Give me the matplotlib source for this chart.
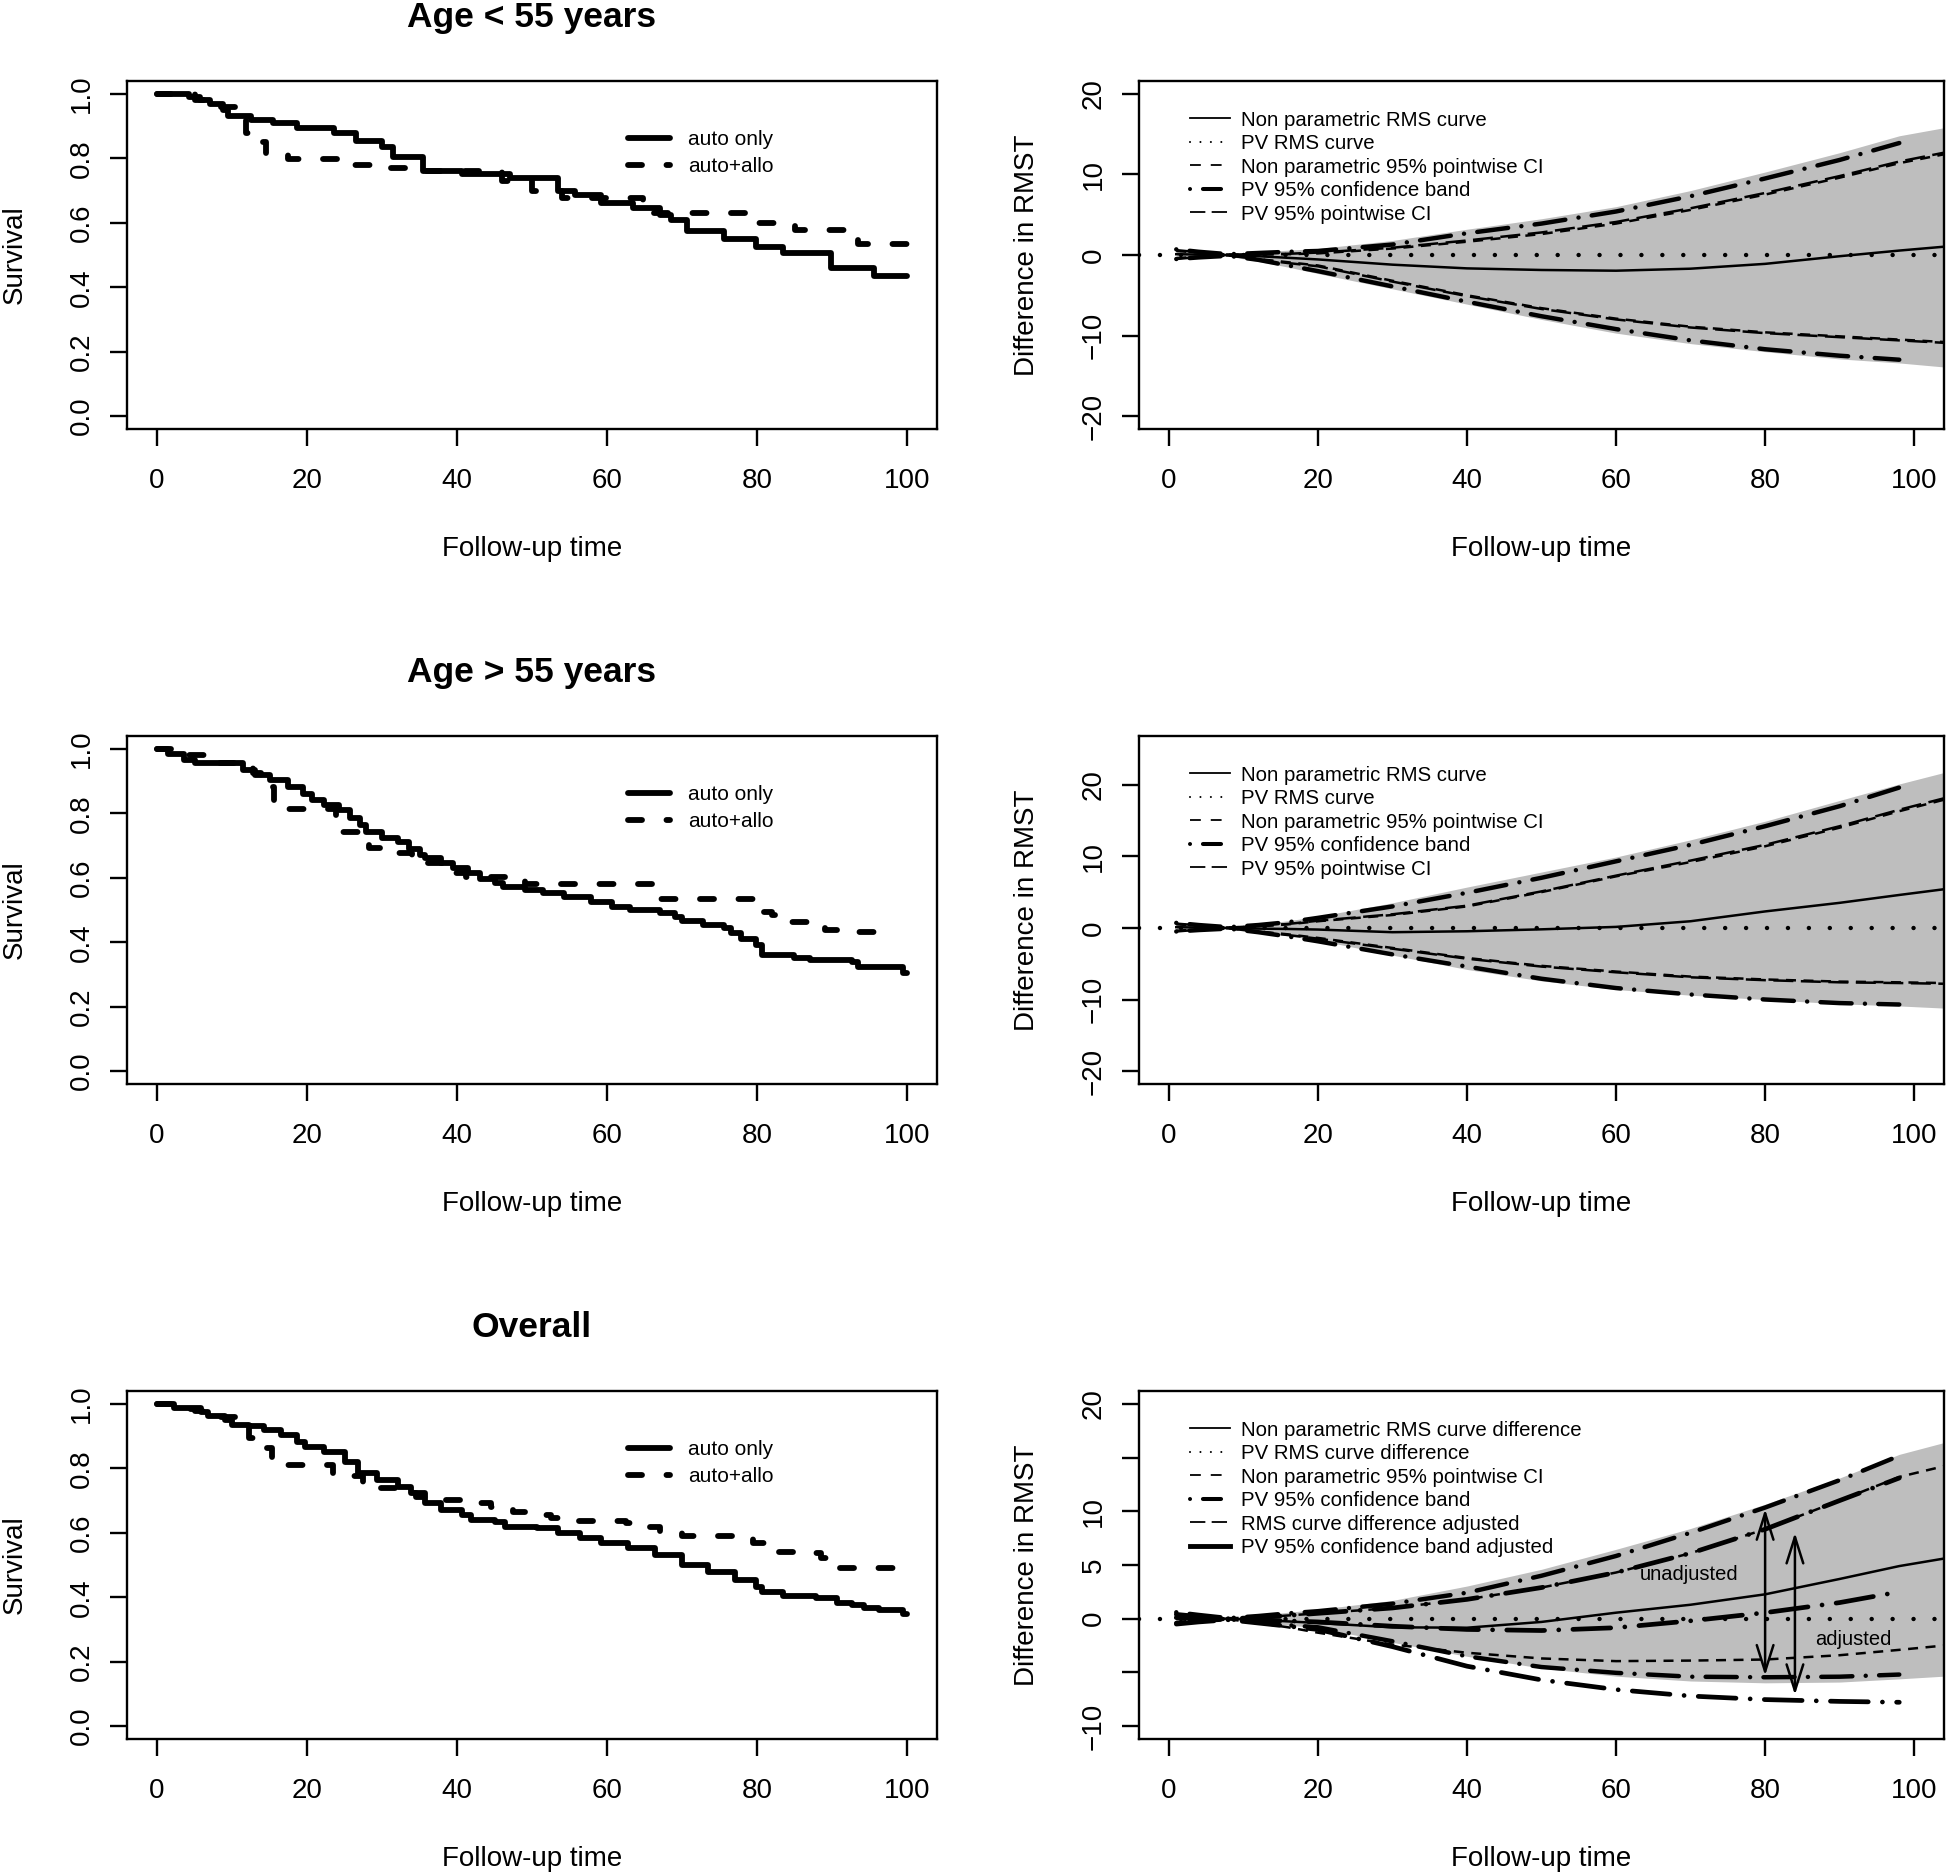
"""Survival curves by age group with RMST difference curves (3x2 panel figure)."""

import matplotlib

matplotlib.use("Agg")  # no display
import matplotlib.pyplot as plt
from matplotlib.lines import Line2D

plt.rcParams["font.family"] = ["Liberation Sans", "DejaVu Sans"]

NAN = float("nan")

# ---------------------------------------------------------------- data
# Kaplan-Meier steps (time of step, survival after step)
lt55_auto_t = [0, 4.3, 5.7, 7.0, 8.8, 9.5, 12.5, 15.5, 18.6, 23.6, 26.5, 30.0, 31.5, 35.5, 40.7,
               47.0, 53.5, 55.7, 59.2, 63.5, 67.1, 68.5, 70.6, 75.6, 79.9, 83.5, 89.9, 95.6, 100]
lt55_auto_s = [1.0, 0.99, 0.98, 0.97, 0.95, 0.93, 0.92, 0.91, 0.895, 0.88, 0.855, 0.835, 0.805, 0.76, 0.75,
               0.74, 0.70, 0.685, 0.66, 0.645, 0.625, 0.61, 0.575, 0.55, 0.525, 0.505, 0.46, 0.435, 0.435]
lt55_allo_t = [0, 5, 8, 10.5, 11.8, 13.0, 14.5, 17.5, 25.5, 31.0, 35.5, 46.0, 50.0, 54.0, 64.8,
               80.0, 85.0, 93.5, 100]
lt55_allo_s = [1.0, 0.98, 0.96, 0.93, 0.88, 0.85, 0.813, 0.798, 0.78, 0.77, 0.76, 0.73, 0.70, 0.676, 0.63,
               0.60, 0.578, 0.535, 0.535]

gt55_auto_t = [0, 1.5, 3.6, 5.0, 11.5, 13.0, 15.0, 17.5, 19.5, 20.7, 22.2, 24.3, 25.7, 27.0, 27.9, 30.0,
               32.1, 33.6, 35.0, 35.7, 37.8, 39.5, 41.4, 43.0, 45.0, 46.1, 49.0, 51.4, 54.2, 57.8, 60.7,
               63.0, 67.1, 69.0, 70.0, 72.8, 75.6, 76.5, 77.8, 79.9, 80.6, 84.9, 87.1, 92.7, 93.5, 99.5, 100]
gt55_auto_s = [1.0, 0.984, 0.966, 0.956, 0.935, 0.919, 0.904, 0.883, 0.86, 0.842, 0.826, 0.81, 0.785, 0.765,
               0.743, 0.725, 0.712, 0.69, 0.671, 0.66, 0.645, 0.63, 0.614, 0.595, 0.583, 0.572, 0.562, 0.552,
               0.541, 0.526, 0.51, 0.50, 0.49, 0.479, 0.465, 0.453, 0.443, 0.43, 0.41, 0.39, 0.36, 0.352,
               0.345, 0.339, 0.322, 0.305, 0.305]
gt55_allo_t = [0, 2.5, 4.3, 8.0, 12.8, 13.8, 15.6, 16.5, 23.8, 24.8, 27.4, 28.3, 30.5, 34.0, 39.5, 41.2,
               49.0, 66.5, 67.0, 80.5, 82.0, 84.0, 89.0, 93.0, 97.5]
gt55_allo_s = [1.0, 0.99, 0.981, 0.956, 0.925, 0.883, 0.842, 0.814, 0.769, 0.743, 0.717, 0.692, 0.676,
               0.645, 0.614, 0.603, 0.581, 0.545, 0.533, 0.495, 0.484, 0.464, 0.438, 0.433, 0.433]

all_auto_t = [0, 2.2, 5.8, 6.8, 9.0, 10.0, 12.2, 14.3, 16.5, 18.6, 19.7, 22.2, 25.0, 26.8, 29.3, 32.1,
              33.9, 35.7, 37.8, 40.7, 41.8, 45.0, 46.4, 50.7, 53.5, 56.4, 59.2, 62.8, 66.4, 70.0, 73.5,
              77.1, 79.9, 80.6, 83.5, 87.8, 90.6, 92.7, 94.2, 96.3, 99.5, 100]
all_auto_s = [1.0, 0.987, 0.976, 0.961, 0.95, 0.935, 0.93, 0.919, 0.904, 0.883, 0.867, 0.852, 0.821, 0.785,
              0.764, 0.743, 0.723, 0.692, 0.671, 0.655, 0.64, 0.634, 0.619, 0.614, 0.598, 0.583, 0.567,
              0.552, 0.531, 0.5, 0.479, 0.453, 0.433, 0.417, 0.404, 0.397, 0.381, 0.376, 0.366, 0.36,
              0.348, 0.348]
all_allo_t = [0, 2.0, 5.0, 8.0, 11.0, 12.2, 13.3, 15.3, 16.3, 23.5, 27.5, 33.0, 34.5, 36.5, 42.0, 44.5,
              47.5, 49.5, 52.5, 54.0, 62.5, 64.5, 67.0, 70.0, 78.0, 79.5, 81.5, 87.0, 88.5, 91.0, 100]
all_allo_s = [1.0, 0.985, 0.978, 0.96, 0.93, 0.893, 0.862, 0.836, 0.81, 0.776, 0.738, 0.723, 0.712, 0.702,
              0.692, 0.681, 0.666, 0.655, 0.645, 0.638, 0.63, 0.619, 0.598, 0.59, 0.583, 0.567, 0.541,
              0.536, 0.521, 0.49, 0.49]

# RMST difference curves, read at these follow-up times
T = [1, 4, 8, 12, 16, 20, 30, 40, 50, 60, 70, 80, 90, 98, 104]

lt55_np_mid = [0.1, 0.05, 0.0, -0.15, -0.35, -0.55, -1.2, -1.66, -1.86, -1.95, -1.7, -1.1, -0.15, 0.55, 1.03]
lt55_np_hi = [0.5, 0.3, 0.05, 0.05, 0.1, 0.2, 0.8, 1.65, 2.6, 3.9, 5.6, 7.5, 9.6, 11.4, 12.5]
lt55_np_lo = [-0.4, -0.2, -0.05, -0.5, -0.9, -1.3, -3.2, -5.0, -6.6, -7.9, -8.9, -9.6, -10.1, -10.5, -10.8]
lt55_pw_hi = [0.6, 0.35, 0.05, 0.1, 0.15, 0.3, 0.9, 1.8, 2.8, 4.1, 5.8, 7.7, 9.8, 11.6, 12.7]
lt55_pw_lo = [-0.5, -0.25, -0.05, -0.55, -1.0, -1.4, -3.3, -5.1, -6.7, -8.0, -9.0, -9.7, -10.2, -10.6, -10.9]
lt55_band_hi = [0.7, 0.4, 0.1, 0.25, 0.4, 0.5, 1.3, 2.7, 3.9, 5.4, 7.3, 9.5, 11.8, 13.9, NAN]
lt55_band_lo = [-0.5, -0.3, -0.1, -0.6, -1.3, -2.0, -3.9, -5.8, -7.6, -9.2, -10.6, -11.7, -12.5, -13.0, NAN]
lt55_grey_hi = [0.7, 0.45, 0.15, 0.35, 0.6, 0.8, 1.8, 3.2, 4.5, 6.0, 8.0, 10.3, 12.7, 14.8, 15.8]
lt55_grey_lo = [-0.5, -0.3, -0.15, -0.8, -1.5, -2.3, -4.2, -6.1, -8.0, -9.7, -11.0, -12.0, -12.9, -13.4, -13.9]

gt55_np_mid = [0.1, 0.05, 0.0, -0.1, -0.15, -0.23, -0.6, -0.47, -0.2, 0.14, 0.93, 2.3, 3.5, 4.6, 5.4]
gt55_np_hi = [0.5, 0.3, 0.05, 0.2, 0.5, 0.93, 1.8, 3.0, 5.0, 7.2, 9.2, 11.4, 14.0, 16.3, 17.9]
gt55_np_lo = [-0.4, -0.2, -0.05, -0.5, -0.9, -1.4, -2.8, -4.2, -5.3, -6.1, -6.8, -7.2, -7.5, -7.6, -7.7]
gt55_pw_hi = [0.6, 0.35, 0.05, 0.25, 0.55, 1.0, 1.9, 3.1, 5.1, 7.3, 9.4, 11.6, 14.2, 16.5, 18.1]
gt55_pw_lo = [-0.5, -0.25, -0.05, -0.55, -1.0, -1.5, -2.9, -4.3, -5.4, -6.2, -6.9, -7.3, -7.6, -7.7, -7.8]
gt55_band_hi = [0.7, 0.4, 0.1, 0.4, 0.8, 1.4, 3.0, 4.9, 7.0, 9.3, 11.6, 14.2, 17.0, 19.6, NAN]
gt55_band_lo = [-0.5, -0.3, -0.1, -0.6, -1.2, -1.87, -3.7, -5.4, -7.1, -8.4, -9.3, -10.0, -10.5, -10.7, NAN]
gt55_grey_hi = [0.7, 0.45, 0.15, 0.5, 1.0, 1.6, 3.5, 5.7, 7.8, 9.9, 12.3, 14.9, 17.8, 20.1, 21.7]
gt55_grey_lo = [-0.5, -0.3, -0.15, -0.6, -1.1, -1.7, -3.8, -5.8, -7.4, -8.6, -9.4, -10.0, -10.6, -10.9, -11.2]

all_np_mid = [0.1, 0.05, 0.0, -0.1, -0.25, -0.4, -0.8, -0.84, -0.3, 0.56, 1.3, 2.27, 3.7, 4.9, 5.6]
all_np_hi = [0.4, 0.2, 0.05, 0.1, 0.3, 0.5, 1.0, 1.8, 2.9, 4.3, 6.1, 8.33, 11.0, 13.2, 14.2]
all_np_lo = [-0.3, -0.15, -0.05, -0.4, -0.8, -1.3, -2.4, -3.17, -3.7, -3.95, -3.9, -3.8, -3.4, -2.9, -2.5]
all_band_hi = [0.6, 0.35, 0.05, 0.25, 0.5, 0.7, 1.4, 2.42, 4.0, 5.84, 8.0, 10.35, 12.9, 15.17, NAN]
all_band_lo = [-0.4, -0.2, -0.05, -0.3, -0.6, -0.8, -2.1, -3.5, -4.5, -5.04, -5.4, -5.45, -5.4, -5.2, NAN]
all_adj_mid = [0.1, 0.0, -0.05, -0.15, -0.2, -0.3, -0.7, -1.0, -1.1, -0.84, -0.2, 0.56, 1.5, 2.5, NAN]
all_adj_hi = [0.4, 0.2, 0.0, 0.1, 0.3, 0.5, 1.0, 1.8, 2.9, 4.3, 6.1, 8.33, 11.0, 13.1, NAN]
all_adj_lo = [-0.5, -0.3, -0.1, -0.4, -0.7, -1.0, -2.6, -4.42, -5.7, -6.6, -7.2, -7.53, -7.7, -7.78, NAN]
all_grey_hi = [0.6, 0.4, 0.1, 0.3, 0.6, 0.87, 1.7, 3.04, 4.6, 6.46, 8.4, 10.66, 13.1, 15.3, 16.4]
all_grey_lo = [-0.4, -0.2, -0.1, -0.3, -0.6, -0.84, -2.2, -3.5, -4.6, -5.35, -5.8, -5.97, -5.9, -5.6, -5.35]

arrow_x = [80, 84]
arrow_top = [10.2, 8.0]
arrow_bottom = [-5.3, -7.1]
arrow_text = ["unadjusted", "adjusted"]
arrow_text_xy = [(69.8, 4.1), (91.9, -1.9)]

titles = ["Age < 55 years", "Age > 55 years", "Overall"]
km_legend = ["auto only", "auto+allo"]
legend_basic = ["Non parametric RMS curve", "PV RMS curve", "Non parametric 95% pointwise CI",
                "PV 95% confidence band", "PV 95% pointwise CI"]
legend_overall = ["Non parametric RMS curve difference", "PV RMS curve difference",
                  "Non parametric 95% pointwise CI", "PV 95% confidence band",
                  "RMS curve difference adjusted", "PV 95% confidence band adjusted"]

# ---------------------------------------------------------------- layout (pixels)
W, H = 1947, 1873
ROW_TOP = [81, 736, 1391]
ROW_BOTTOM = [429, 1084, 1739]
LEFT_X = (127, 937)
RIGHT_X = (1139, 1944)
GREY = "#bebebe"

KM_LW = 4.2
KM_DASH = (2.4, 4.2)
DOT = (0.01, 4.7)
BAND_DASH = (0.01, 3.0, 7.0, 3.0)


def rect(x0, x1, top, bottom):
    return [x0 / W, 1 - bottom / H, (x1 - x0) / W, (bottom - top) / H]


def style_axes(ax, box_w, xlabel, ylabel, title=None):
    for sp in ax.spines.values():
        sp.set_linewidth(1.7)
    ax.tick_params(direction="out", length=12, width=1.7, labelsize=20)
    ax.tick_params(axis="x", pad=16)
    ax.tick_params(axis="y", pad=11, labelrotation=90)
    for lab in ax.get_yticklabels():
        lab.set_verticalalignment("center")
    ax.set_xlim(-4, 104)
    ax.set_xticks([0, 20, 40, 60, 80, 100])
    ax.text(0.5, -127 / 348, xlabel, ha="center", va="baseline", fontsize=20, transform=ax.transAxes)
    ax.text(-105 / box_w, 0.5, ylabel, rotation=90, rotation_mode="anchor", ha="center",
            va="baseline", fontsize=20, transform=ax.transAxes)
    if title:
        ax.text(0.5, 1 + 54 / 348, title, ha="center", va="baseline", fontsize=25.5,
                fontweight="bold", transform=ax.transAxes)


def plot_survival(ax, auto_t, auto_s, allo_t, allo_s, title):
    ax.step(allo_t, allo_s, where="post", color="k", lw=KM_LW, linestyle=(0, KM_DASH),
            dash_capstyle="round", solid_capstyle="round")
    ax.step(auto_t, auto_s, where="post", color="k", lw=KM_LW, solid_capstyle="round",
            solid_joinstyle="round")
    ax.set_ylim(-0.04, 1.04)
    ax.set_yticks([0.0, 0.2, 0.4, 0.6, 0.8, 1.0])
    ax.set_yticklabels(["0.0", "0.2", "0.4", "0.6", "0.8", "1.0"])
    style_axes(ax, LEFT_X[1] - LEFT_X[0], "Follow-up time", "Survival", title)
    handles = [Line2D([], [], color="k", lw=KM_LW, solid_capstyle="round"),
               Line2D([], [], color="k", lw=KM_LW, linestyle=(0, KM_DASH), dash_capstyle="round")]
    ax.legend(handles, km_legend, loc="upper left", bbox_to_anchor=(0.6185, 0.859), frameon=False,
              fontsize=15, handlelength=2.0, handletextpad=0.9, labelspacing=0.38, borderpad=0,
              borderaxespad=0)


def basic_handles():
    return [
        Line2D([], [], color="k", lw=1.3),
        Line2D([], [], color="k", lw=1.5, linestyle=(0, (0.01, 5)), dash_capstyle="round"),
        Line2D([], [], color="k", lw=1.3, linestyle=(0, (6, 5.5))),
        Line2D([], [], color="k", lw=2.9, linestyle=(0, (0.01, 3.2, 4.5, 3.2)), dash_capstyle="round"),
        Line2D([], [], color="k", lw=1.3, linestyle=(0, (8.5, 3.5))),
    ]


def rmst_legend(ax, handles, labels):
    ax.legend(handles, labels, loc="upper left", bbox_to_anchor=(0.0634, 0.915),
              frameon=False, fontsize=14.7, handlelength=1.95, handletextpad=0.55, labelspacing=0.22,
              borderpad=0, borderaxespad=0)


def plot_rmst(ax, grey_lo, grey_hi, np_mid, np_lo, np_hi, pw_lo, pw_hi, band_lo, band_hi, ylim, yticks):
    ax.fill_between(T, grey_lo, grey_hi, color=GREY, lw=0)
    ax.axhline(0, color="k", lw=3.2, linestyle=(0, DOT), dash_capstyle="round")
    ax.plot(T, np_mid, color="k", lw=1.8)
    for y in (np_hi, np_lo):
        ax.plot(T, y, color="k", lw=1.8, linestyle=(0, (4, 3)))
    for y in (pw_hi, pw_lo):
        ax.plot(T, y, color="k", lw=1.8, linestyle=(2, (8, 3)))
    for y in (band_hi, band_lo):
        ax.plot(T, y, color="k", lw=3.2, linestyle=(0, BAND_DASH), dash_capstyle="round")
    ax.set_ylim(*ylim)
    ax.set_yticks(yticks)
    style_axes(ax, RIGHT_X[1] - RIGHT_X[0], "Follow-up time", "Difference in RMST")
    rmst_legend(ax, basic_handles(), legend_basic)


def plot_rmst_overall(ax):
    ax.fill_between(T, all_grey_lo, all_grey_hi, color=GREY, lw=0)
    ax.axhline(0, color="k", lw=3.2, linestyle=(0, DOT), dash_capstyle="round")
    ax.plot(T, all_np_mid, color="k", lw=1.8)
    for y in (all_np_hi, all_np_lo):
        ax.plot(T, y, color="k", lw=1.8, linestyle=(0, (4, 3)))
    for y in (all_band_hi, all_band_lo):
        ax.plot(T, y, color="k", lw=3.2, linestyle=(0, BAND_DASH), dash_capstyle="round")
    for y in (all_adj_hi, all_adj_lo):
        ax.plot(T, y, color="k", lw=3.4, linestyle=(3, (0.01, 3.0, 8.0, 3.0)), dash_capstyle="round")
    ax.plot(T, all_adj_mid, color="k", lw=3.4, linestyle=(0, (8.0, 3.0, 0.01, 3.0)), dash_capstyle="round")

    for x, y0, y1 in zip(arrow_x, arrow_bottom, arrow_top):
        ax.annotate("", xy=(x, y1), xytext=(x, y0),
                    arrowprops=dict(arrowstyle="<->,head_length=0.95,head_width=0.3", lw=1.8,
                                    color="k", mutation_scale=20, shrinkA=0, shrinkB=0))
    for txt, (x, y) in zip(arrow_text, arrow_text_xy):
        ax.text(x, y, txt, ha="center", va="center", fontsize=14.5)

    ax.set_ylim(-11.2, 21.2)
    ax.set_yticks([-10, -5, 0, 5, 10, 15, 20])
    ax.set_yticklabels(["\u221210", "", "0", "5", "10", "", "20"])
    style_axes(ax, RIGHT_X[1] - RIGHT_X[0], "Follow-up time", "Difference in RMST")
    handles = basic_handles()[:4] + [
        Line2D([], [], color="k", lw=1.3, linestyle=(0, (8.5, 3.5))),
        Line2D([], [], color="k", lw=3.5),
    ]
    rmst_legend(ax, handles, legend_overall)


def main():
    fig = plt.figure(figsize=(W / 100, H / 100), dpi=100)
    axes_l = [fig.add_axes(rect(LEFT_X[0], LEFT_X[1], ROW_TOP[i], ROW_BOTTOM[i])) for i in range(3)]
    axes_r = [fig.add_axes(rect(RIGHT_X[0], RIGHT_X[1], ROW_TOP[i], ROW_BOTTOM[i])) for i in range(3)]

    plot_survival(axes_l[0], lt55_auto_t, lt55_auto_s, lt55_allo_t, lt55_allo_s, titles[0])
    plot_survival(axes_l[1], gt55_auto_t, gt55_auto_s, gt55_allo_t, gt55_allo_s, titles[1])
    plot_survival(axes_l[2], all_auto_t, all_auto_s, all_allo_t, all_allo_s, titles[2])

    plot_rmst(axes_r[0], lt55_grey_lo, lt55_grey_hi, lt55_np_mid, lt55_np_lo, lt55_np_hi,
              lt55_pw_lo, lt55_pw_hi, lt55_band_lo, lt55_band_hi, (-21.6, 21.6), [-20, -10, 0, 10, 20])
    plot_rmst(axes_r[1], gt55_grey_lo, gt55_grey_hi, gt55_np_mid, gt55_np_lo, gt55_np_hi,
              gt55_pw_lo, gt55_pw_hi, gt55_band_lo, gt55_band_hi, (-21.8, 26.8), [-20, -10, 0, 10, 20])
    plot_rmst_overall(axes_r[2])

    fig.savefig("out.png", dpi=100)
    plt.close(fig)


if __name__ == "__main__":
    main()
